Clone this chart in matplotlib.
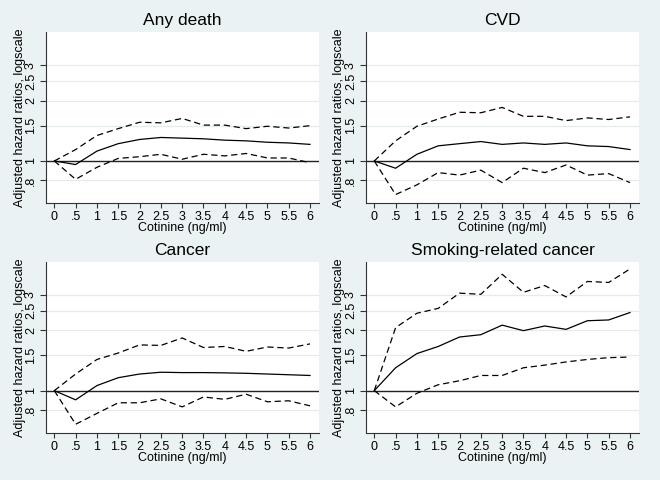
import matplotlib
matplotlib.use("Agg")
import matplotlib.pyplot as plt
import numpy as np

# cotinine levels (x axis)
cotinine = [0, 0.5, 1, 1.5, 2, 2.5, 3, 3.5, 4, 4.5, 5, 5.5, 6]
xtick_labels = ["0", ".5", "1", "1.5", "2", "2.5", "3", "3.5", "4", "4.5", "5", "5.5", "6"]

# y ticks on the log scale
yticks = [0.8, 1, 1.5, 2, 2.5, 3]
ytick_labels = [".8", "1", "1.5", "2", "2.5", "3"]

titles = ["Any death", "CVD", "Cancer", "Smoking-related cancer"]

# hazard ratio estimates with lower / upper confidence limits
any_hr = [1, 0.96, 1.12, 1.22, 1.28, 1.31, 1.30, 1.29, 1.27, 1.26, 1.24, 1.23, 1.21]
any_lo = [1, 0.81, 0.93, 1.03, 1.05, 1.08, 1.02, 1.08, 1.06, 1.09, 1.035, 1.035, 0.98]
any_hi = [1, 1.14, 1.34, 1.45, 1.56, 1.55, 1.63, 1.51, 1.51, 1.45, 1.49, 1.46, 1.50]

cvd_hr = [1, 0.92, 1.08, 1.19, 1.22, 1.25, 1.21, 1.23, 1.21, 1.23, 1.19, 1.18, 1.14]
cvd_lo = [1, 0.68, 0.76, 0.875, 0.85, 0.90, 0.78, 0.92, 0.875, 0.955, 0.85, 0.865, 0.78]
cvd_hi = [1, 1.26, 1.49, 1.62, 1.75, 1.74, 1.85, 1.67, 1.67, 1.59, 1.64, 1.61, 1.66]

cancer_hr = [1, 0.90, 1.06, 1.16, 1.21, 1.235, 1.23, 1.23, 1.226, 1.22, 1.21, 1.20, 1.19]
cancer_lo = [1, 0.68, 0.77, 0.87, 0.87, 0.91, 0.83, 0.93, 0.905, 0.96, 0.88, 0.89, 0.84]
cancer_hi = [1, 1.21, 1.43, 1.54, 1.69, 1.68, 1.83, 1.64, 1.66, 1.57, 1.65, 1.63, 1.71]

smk_hr = [1, 1.30, 1.53, 1.66, 1.85, 1.90, 2.12, 1.99, 2.10, 2.02, 2.23, 2.25, 2.45]
smk_lo = [1, 0.83, 0.97, 1.07, 1.12, 1.19, 1.19, 1.30, 1.34, 1.39, 1.43, 1.46, 1.47]
smk_hi = [1, 2.06, 2.43, 2.57, 3.06, 3.02, 3.80, 3.09, 3.34, 2.93, 3.50, 3.46, 4.04]

panels = [
    (any_hr, any_lo, any_hi),
    (cvd_hr, cvd_lo, cvd_hi),
    (cancer_hr, cancer_lo, cancer_hi),
    (smk_hr, smk_lo, smk_hi),
]

bg = "#EAF2F3"
plt.rcParams["font.family"] = ["Liberation Sans", "DejaVu Sans"]

fig = plt.figure(figsize=(6.6, 4.8), dpi=100, facecolor=bg)

# axes boxes (left, bottom, width, height) in figure fraction
boxes = [
    (0.0697, 0.5765, 0.4136, 0.3568),
    (0.5545, 0.5765, 0.4136, 0.3568),
    (0.0697, 0.0979, 0.4136, 0.3573),
    (0.5545, 0.0979, 0.4136, 0.3573),
]

for box, title, (hr, lo, hi) in zip(boxes, titles, panels):
    ax = fig.add_axes(box)
    ax.set_facecolor("white")
    ax.set_yscale("log")
    ax.set_ylim(0.615, 4.4)
    ax.set_xlim(-0.195, 6.21)

    # grid lines and reference line at 1
    for yv in yticks:
        if yv != 1:
            ax.axhline(yv, color="#E3EBED", lw=0.9, zorder=1)
    ax.axhline(1, color="#222222", lw=1.0, zorder=2)

    ax.plot(cotinine, hr, color="black", lw=0.9, zorder=3)
    ax.plot(cotinine, lo, color="black", lw=0.9, dashes=(5, 3), zorder=3)
    ax.plot(cotinine, hi, color="black", lw=0.9, dashes=(5, 3), zorder=3)

    ax.set_xticks(cotinine)
    ax.set_xticklabels(xtick_labels)
    ax.set_yticks(yticks)
    ax.set_yticklabels(ytick_labels, rotation=90, va="center")
    ax.yaxis.set_minor_locator(matplotlib.ticker.NullLocator())

    ax.tick_params(axis="both", direction="out", length=3.5, width=0.8,
                   color="#333333", labelsize=9.0, pad=2)
    ax.tick_params(axis="y", length=4.5)
    for side in ["top", "right"]:
        ax.spines[side].set_visible(False)
    for side in ["left", "bottom"]:
        ax.spines[side].set_color("#333333")
        ax.spines[side].set_linewidth(0.8)

    ax.set_title(title, fontsize=12.5, pad=5)
    ax.set_xlabel("Cotinine (ng/ml)", fontsize=9.0, va="center")
    ax.xaxis.set_label_coords(0.5, -0.145)
    ax.set_ylabel("Adjusted hazard ratios, logscale", fontsize=9.0, va="center")
    ax.yaxis.set_label_coords(-0.097, 0.5)

fig.savefig("out.png", dpi=100, facecolor=bg)
